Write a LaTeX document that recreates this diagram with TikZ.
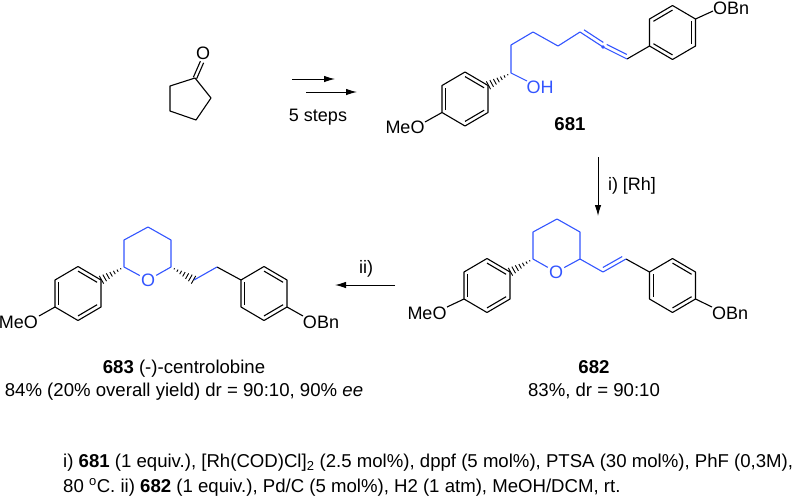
\documentclass[tikz,border=0pt]{standalone}
\usepackage{fontspec}
\setmainfont{Liberation Sans}
\usepackage{xcolor}
\usepackage{tikz}
\usetikzlibrary{calc}
\usetikzlibrary{arrows}
\usetikzlibrary{arrows.meta}
\definecolor{chainblue}{RGB}{51,85,255}
\tikzset{>=latex}
\tikzset{bond/.style = {draw = black, line width = 1.1pt}}
\tikzset{bbond/.style = {draw = chainblue, line width = 1.1pt}}
\tikzset{atom/.style = {draw=none, inner sep = 1, font = \fontsize{18}{20}\selectfont}}
\tikzset{batom/.style = {atom, text = chainblue}}
\tikzset{caption/.style = {draw=none, inner sep = 0, anchor = base, font = \fontsize{18.6}{22}\selectfont}}
\tikzset{rarrow/.style = {-{Latex[length=11pt,width=6.5pt]}, draw = black, line width = 1pt}}
% aryl ring: #1 name, #2 x, #3 y of the centre
\newcommand{\arylring}[3]{
\coordinate (#1c) at (#2, #3);
\coordinate (#1a) at (#2+23, #3-13.5);
\coordinate (#1b) at (#2, #3-27);
\coordinate (#1d) at (#2-23, #3-13.5);
\coordinate (#1e) at (#2-23, #3+13.5);
\coordinate (#1f) at (#2, #3+27);
\coordinate (#1g) at (#2+23, #3+13.5);
\draw [bond, line join = round] (#1a) -- (#1b) -- (#1d) -- (#1e) -- (#1f) -- (#1g) -- cycle;
}
\newcommand{\innerbond}[3]{\draw [bond] ($(#2)!.17!(#1c)$) to ($(#3)!.17!(#1c)$);}
% second line of a double bond
\newcommand{\secondline}[3]{\draw [#3] ($(#1)!.08!(#2)!4pt!90:(#2)$) to ($(#2)!.08!(#1)!4pt!-90:(#1)$);}
% hashed bond, widening from #1 to #2
\newcommand{\hashbond}[2]{
\foreach \t in {.14,.28,.42,.56,.70,.84,.98} {
\draw [black, line width = .9pt] ($(#1)!\t!(#2)!{\t*4.5pt}!90:(#2)$) to ($(#1)!\t!(#2)!{\t*4.5pt}!-90:(#2)$);
}}
\begin{document}
\begin{tikzpicture}[x=1pt, y=-1pt]
\useasboundingbox (0, 0) rectangle (794, 496);
% cyclopentanone
\coordinate (k1) at (195, 78);
\coordinate (k2) at (211, 98);
\coordinate (k3) at (196, 120);
\coordinate (k4) at (170, 111);
\coordinate (k5) at (170, 86);
\coordinate (kco) at (202, 62);
\node [atom] (kO) at (203, 53) {O};
\draw [bond, line join = round] (k1) -- (k2) -- (k3) -- (k4) -- (k5) -- cycle;
\draw [bond] ($(k1)!1.8pt!90:(kco)$) to ($(kco)!1.8pt!-90:(k1)$);
\draw [bond] ($(k1)!1.8pt!-90:(kco)$) to ($(kco)!1.8pt!90:(k1)$);
% 5 steps
\coordinate (s1) at (292, 79);
\coordinate (s2) at (335, 79);
\coordinate (s3) at (306, 92);
\coordinate (s4) at (357, 92);
\draw [rarrow] (s1) to (s2);
\draw [rarrow] (s3) to (s4);
\node [atom] (steps) at (318, 117) {5 steps};
% 681
\arylring{pa}{465}{99}
\arylring{pb}{672.5}{32.5}
\innerbond{pa}{pae}{pad}
\innerbond{pa}{pab}{paa}
\innerbond{pa}{paf}{pag}
\innerbond{pb}{pbd}{pbb}
\innerbond{pb}{pba}{pbg}
\innerbond{pb}{pbe}{pbf}
\node [atom] (meoA) at (405, 127) {MeO};
\node [atom] (obnB) at (731, 8) {OBn};
\node [batom] (ohA) at (540, 87) {OH};
\coordinate (meoAe) at (425, 122);
\coordinate (obnBe) at (713, 11);
\coordinate (ohAe) at (527, 81);
\coordinate (a1) at (511, 73);
\coordinate (a2) at (511, 45);
\coordinate (a3) at (533, 32);
\coordinate (a4) at (558, 46);
\coordinate (a5) at (580, 32);
\coordinate (a6) at (603, 47);
\coordinate (a7) at (627, 59);
\draw [bond] (pae) to (meoAe);
\draw [bond] (pba) to (obnBe);
\draw [bond] (a7) to (pbe);
\hashbond{a1}{paa}
\draw [bbond, line join = round] (ohAe) -- (a1) -- (a2) -- (a3) -- (a4) -- (a5);
\draw [bbond] (a5) to (a6);
\draw [bbond] (a6) to (a7);
\secondline{a5}{a6}{bbond}
\secondline{a6}{a7}{bbond}
\fill [chainblue] (a6) circle (1.8pt);
\node [caption, font = \fontsize{18.6}{22}\selectfont\bfseries] (l681) at (570, 130) {681};
% 682
\coordinate (r1) at (598, 157);
\coordinate (r2) at (598, 216);
\draw [rarrow] (r1) to (r2);
\node [atom] (rh) at (632, 186) {i) [Rh]};
\arylring{pc}{487}{285.5}
\arylring{pd}{672.5}{285.5}
\innerbond{pc}{pce}{pcd}
\innerbond{pc}{pcb}{pca}
\innerbond{pc}{pcf}{pcg}
\innerbond{pd}{pde}{pdd}
\innerbond{pd}{pdb}{pda}
\innerbond{pd}{pdf}{pdg}
\node [atom] (meoC) at (427, 313) {MeO};
\node [atom] (obnD) at (730, 313) {OBn};
\node [batom] (oC) at (556, 272) {O};
\coordinate (meoCe) at (447, 307);
\coordinate (obnDe) at (712, 307);
\coordinate (b1) at (533, 259);
\coordinate (b2) at (533, 232);
\coordinate (b3) at (557, 219);
\coordinate (b4) at (580, 232);
\coordinate (b5) at (580, 259);
\coordinate (b6) at (603, 272);
\coordinate (b7) at (626, 259);
\draw [bond] (pce) to (meoCe);
\draw [bond] (pdg) to (obnDe);
\draw [bond] (b7) to (pdd);
\hashbond{b1}{pca}
\draw [bbond, line join = round] (oC) -- (b1) -- (b2) -- (b3) -- (b4) -- (b5) -- (oC);
\draw [bbond, line join = round] (b5) -- (b6) -- (b7);
\secondline{b6}{b7}{bbond}
\node [caption, font = \fontsize{18.6}{22}\selectfont\bfseries] (l682) at (594, 373) {682};
\node [caption] (y682) at (594, 396) {83\%, dr = 90:10};
% 683
\coordinate (t1) at (395, 285);
\coordinate (t2) at (335, 285);
\draw [rarrow] (t1) to (t2);
\node [atom] (ii) at (366, 269) {ii)};
\arylring{pe}{78}{293.5}
\arylring{pf}{264}{293.5}
\innerbond{pe}{pee}{ped}
\innerbond{pe}{peb}{pea}
\innerbond{pe}{pef}{peg}
\innerbond{pf}{pfe}{pfd}
\innerbond{pf}{pfb}{pfa}
\innerbond{pf}{pff}{pfg}
\node [atom] (meoE) at (18.5, 322) {MeO};
\node [atom] (obnF) at (321, 322) {OBn};
\node [batom] (oE) at (148, 280) {O};
\coordinate (meoEe) at (39, 316);
\coordinate (obnFe) at (303, 316);
\coordinate (c1) at (124, 267);
\coordinate (c2) at (124, 240);
\coordinate (c3) at (148, 227);
\coordinate (c4) at (171, 240);
\coordinate (c5) at (171, 267);
\coordinate (c6) at (194, 280);
\coordinate (c7) at (217, 267);
\draw [bond] (pee) to (meoEe);
\draw [bond] (pfg) to (obnFe);
\draw [bond] (c7) to (pfd);
\hashbond{c1}{pea}
\hashbond{c5}{c6}
\draw [bbond, line join = round] (oE) -- (c1) -- (c2) -- (c3) -- (c4) -- (c5) -- (oE);
\draw [bbond] (c6) to (c7);
\node [caption] (l683) at (184, 373) {\textbf{683} (-)-centrolobine};
\node [caption] (y683) at (184, 396) {84\% (20\% overall yield) dr = 90:10, 90\% \textit{ee}};
% conditions
\node [caption, anchor = base west] (cond1) at (63, 467) {i) \textbf{681} (1 equiv.), [Rh(COD)Cl]\textsubscript{2} (2.5 mol\%), dppf (5 mol\%), PTSA (30 mol\%), PhF (0,3M),};
\node [caption, anchor = base west] (cond2) at (63, 492) {80 \textsuperscript{o}C. ii) \textbf{682} (1 equiv.), Pd/C (5 mol\%), H2 (1 atm), MeOH/DCM, rt.};
\end{tikzpicture}
\end{document}
